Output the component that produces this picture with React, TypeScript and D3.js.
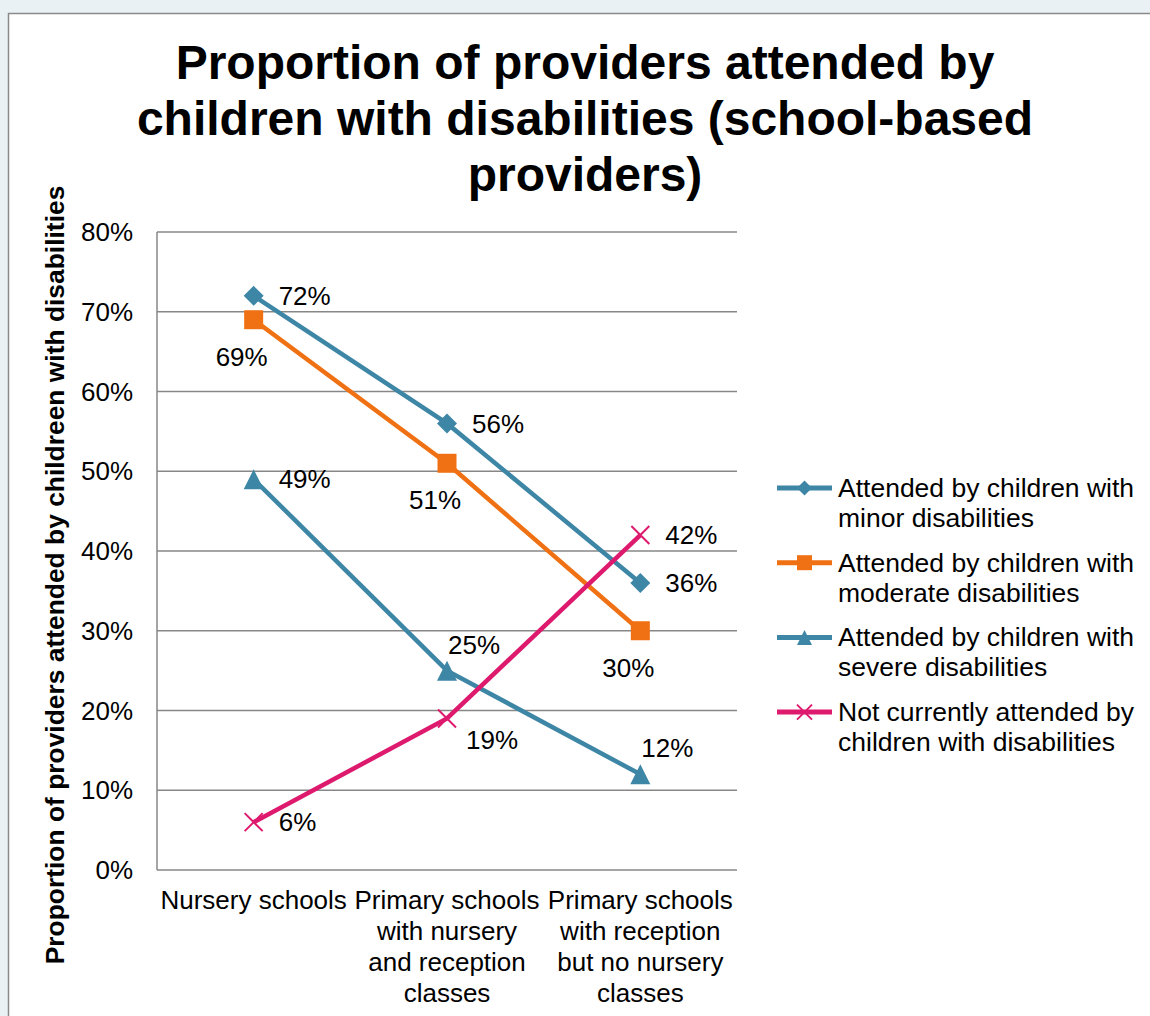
import React from "react";
import * as d3 from "d3";

const categories: string[][] = [
  ["Nursery schools"],
  ["Primary schools", "with nursery", "and reception", "classes"],
  ["Primary schools", "with reception", "but no nursery", "classes"],
];
const categoryKeys = ["nursery", "primaryNursery", "primaryReception"];

const minorValues = [72, 56, 36];
const moderateValues = [69, 51, 30];
const severeValues = [49, 25, 12];
const noneValues = [6, 19, 42];

const minorLabelPos = ["right", "right", "right"];
const moderateLabelPos = ["below", "below", "below"];
const severeLabelPos = ["right", "above", "above"];
const noneLabelPos = ["right", "belowRight", "right"];

const yTicks = [0, 10, 20, 30, 40, 50, 60, 70, 80];

const titleLines = [
  "Proportion of providers attended by",
  "children with disabilities (school-based",
  "providers)",
];
const yAxisTitle = "Proportion of providers attended by childreen with disabilities";

const series = [
  { name: ["Attended by children with", "minor disabilities"], values: minorValues, pos: minorLabelPos, color: "#3E86A6", marker: "diamond" },
  { name: ["Attended by children with", "moderate disabilities"], values: moderateValues, pos: moderateLabelPos, color: "#EF7113", marker: "square" },
  { name: ["Attended by children with", "severe disabilities"], values: severeValues, pos: severeLabelPos, color: "#3E86A6", marker: "triangle" },
  { name: ["Not currently attended by", "children with disabilities"], values: noneValues, pos: noneLabelPos, color: "#DE1A6E", marker: "x" },
];

const FONT = "'Liberation Sans', Arial, sans-serif";

function Marker({ type, x, y, color, s }: { type: string; x: number; y: number; color: string; s: number }) {
  const h = s / 2;
  if (type === "diamond") {
    return <path d={`M${x},${y - h}L${x + h},${y}L${x},${y + h}L${x - h},${y}Z`} fill={color} />;
  }
  if (type === "square") {
    return <rect x={x - h} y={y - h} width={s} height={s} fill={color} />;
  }
  if (type === "triangle") {
    return <path d={`M${x},${y - h}L${x + h},${y + h}L${x - h},${y + h}Z`} fill={color} />;
  }
  return (
    <path d={`M${x - h},${y - h}L${x + h},${y + h}M${x - h},${y + h}L${x + h},${y - h}`} stroke={color} strokeWidth={2} fill="none" />
  );
}

function labelProps(pos: string, x: number, y: number) {
  switch (pos) {
    case "below":
      return { x: x - 12, y: y + 37, anchor: "middle" };
    case "above":
      return { x: x + 27, y: y - 26, anchor: "middle" };
    case "belowRight":
      return { x: x + 19, y: y + 21, anchor: "start" };
    default:
      return { x: x + 25, y: y, anchor: "start" };
  }
}

export default function App() {
  const W = 1150;
  const H = 1016;
  const left = 157;
  const right = 737;
  const top = 232;
  const bottom = 870;

  const x = d3.scaleBand<string>().domain(categoryKeys).range([left, right]);
  const cx = (i: number) => (x(categoryKeys[i]) as number) + x.bandwidth() / 2;
  const y = d3.scaleLinear().domain([0, 80]).range([bottom, top]);

  const line = d3
    .line<number>()
    .x((_, i) => cx(i))
    .y((v) => y(v));

  const legendX1 = 777;
  const legendX2 = 832;
  const legendY0 = 488;
  const legendStep = 74.7;

  return (
    <svg
      width={W}
      height={H}
      style={{ position: "absolute", left: 0, top: 0, display: "block" }}
      fontFamily={FONT}
    >
      <rect x={0} y={0} width={W} height={H} fill="#E9F1F5" />
      <rect x={8.5} y={13.5} width={W + 20} height={H + 20} fill="#ffffff" stroke="#8A8A8A" strokeWidth={1.5} />

      {titleLines.map((t, i) => (
        <text key={i} x={585} y={79 + i * 56} textAnchor="middle" fontSize={48} fontWeight="bold" fill="#000">
          {t}
        </text>
      ))}

      <text
        transform={`translate(64,${575}) rotate(-90)`}
        textAnchor="middle"
        fontSize={26.4}
        fontWeight="bold"
        fill="#000"
      >
        {yAxisTitle}
      </text>

      {yTicks.map((t) => (
        <g key={t}>
          <line x1={left} x2={right} y1={y(t)} y2={y(t)} stroke="#878787" strokeWidth={1.5} />
          <text x={133} y={y(t)} dy="0.35em" textAnchor="end" fontSize={26} fill="#000">
            {t}%
          </text>
        </g>
      ))}
      <line x1={left} x2={left} y1={top} y2={bottom} stroke="#878787" strokeWidth={1.5} />

      {categories.map((lines, i) => (
        <text key={i} textAnchor="middle" fontSize={26} fill="#000">
          {lines.map((l, j) => (
            <tspan key={j} x={cx(i)} y={909 + j * 31}>
              {l}
            </tspan>
          ))}
        </text>
      ))}

      {series.map((s, si) => (
        <g key={si}>
          <path d={line(s.values) || ""} fill="none" stroke={s.color} strokeWidth={4.5} />
          {s.values.map((v, i) => (
            <Marker key={i} type={s.marker} x={cx(i)} y={y(v)} color={s.color} s={s.marker === "x" ? 18 : s.marker === "square" ? 19 : 20} />
          ))}
        </g>
      ))}

      {series.map((s, si) =>
        s.values.map((v, i) => {
          const p = labelProps(s.pos[i], cx(i), y(v));
          return (
            <text key={`${si}-${i}`} x={p.x} y={p.y} dy="0.35em" textAnchor={p.anchor} fontSize={26} fill="#000">
              {v}%
            </text>
          );
        })
      )}

      {series.map((s, si) => {
        const ly = legendY0 + si * legendStep;
        return (
          <g key={si}>
            <line x1={legendX1} x2={legendX2} y1={ly} y2={ly} stroke={s.color} strokeWidth={5} />
            <Marker type={s.marker} x={(legendX1 + legendX2) / 2} y={ly} color={s.color} s={15} />
            <text fontSize={26.5} fill="#000">
              {s.name.map((n, j) => (
                <tspan key={j} x={838} y={ly + 9 + j * 30}>
                  {n}
                </tspan>
              ))}
            </text>
          </g>
        );
      })}
    </svg>
  );
}
